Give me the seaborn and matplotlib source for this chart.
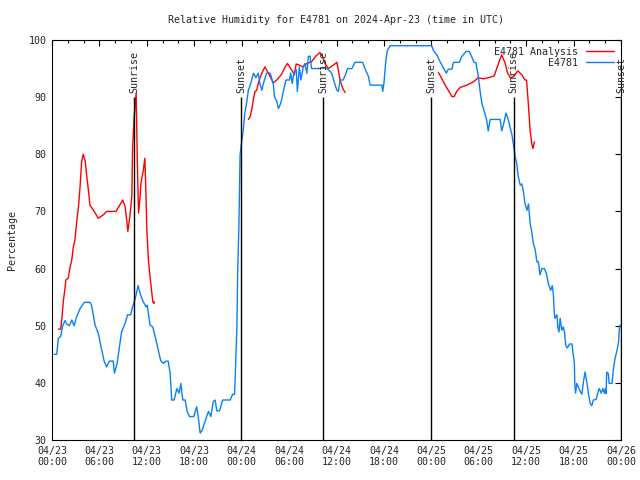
import numpy as np
import pandas as pd
import matplotlib
matplotlib.use("Agg")
import matplotlib.pyplot as plt
import seaborn as sns
from matplotlib.lines import Line2D

# hours since 2024-04-23 00:00 UTC
obs_hours = [0.25, 0.6, 0.8, 1.1, 1.35, 1.65, 1.85, 2.2, 2.5, 2.8, 3.05, 3.55, 4.1, 4.8, 5.0, 5.45,
             5.85, 6.3, 6.6, 6.9, 7.25, 7.75, 7.9, 8.25, 8.8, 9.25, 9.55, 9.95, 10.2, 10.5, 10.9, 11.2,
             11.55, 11.9, 12.05, 12.4, 12.75, 13.05, 13.45, 13.75, 14.1, 14.4, 14.7, 14.95, 15.15, 15.45,
             15.8, 16.1, 16.3, 16.55, 16.85, 17.1, 17.4, 17.95, 18.3, 18.5, 18.75, 19.0, 19.35, 19.8,
             20.1, 20.4, 20.65, 20.85, 21.2, 21.6, 22.55, 22.85, 23.1, 23.2, 23.4, 23.5, 23.65, 23.8,
             24.0, 24.2, 24.4, 24.65, 24.85, 25.15, 25.5, 25.8, 26.1, 26.3, 26.55, 26.75, 27.15, 27.6,
             28.0, 28.15, 28.45, 28.65, 28.85, 29.05, 29.3, 29.6, 30.05, 30.2, 30.4, 30.6, 30.9, 31.05,
             31.3, 31.5, 31.8, 32.0, 32.25, 32.45, 32.65, 32.85, 33.3, 33.9, 34.35, 34.75, 34.95, 35.4,
             35.7, 36.05, 36.25, 36.45, 36.85, 37.2, 37.4, 37.95, 38.35, 39.3, 39.6, 39.85, 40.05, 40.25,
             41.1, 41.75, 41.85, 42.0, 42.25, 42.45, 42.8, 48.05, 48.25, 48.7, 49.1, 49.45, 49.9, 50.15,
             50.6, 50.8, 51.55, 51.85, 52.4, 52.8, 53.1, 53.4, 53.65, 53.95, 54.2, 54.4, 54.7, 55.0,
             55.2, 55.45, 56.7, 56.9, 57.15, 57.45, 57.75, 57.95, 58.2, 58.4, 58.6, 58.8, 59.0, 59.25,
             59.45, 59.65, 59.85, 60.1, 60.3, 60.5, 60.7, 60.9, 61.15, 61.35, 61.55, 61.75, 62.0, 62.3,
             62.55, 62.8, 63.1, 63.3, 63.45, 63.55, 63.65, 63.9, 64.0, 64.15, 64.3, 64.5, 64.7, 64.85,
             65.0, 65.2, 65.5, 65.8, 65.9, 66.1, 66.15, 66.25, 66.4, 66.6, 66.85, 67.05, 67.25, 67.45,
             67.7, 67.9, 68.1, 68.3, 68.5, 68.85, 69.05, 69.25, 69.5, 69.7, 69.9, 70.0, 70.1, 70.2,
             70.4, 70.5, 70.85, 71.05, 71.25, 71.5, 71.7, 71.8, 71.9]
obs_rh = [45, 45, 47.8, 48.1, 50, 50.9, 50.3, 50, 51, 50, 51.3, 53, 54.1, 54.1, 53.6, 50.1,
          48.7, 45.7, 43.8, 42.8, 43.8, 43.8, 41.7, 43.5, 48.9, 50.4, 51.9, 51.9, 53.3, 54.6, 57, 55.4,
          54.2, 53.3, 53.6, 50.1, 49.8, 48.1, 45.7, 43.9, 43.4, 43.8, 43.8, 41.7, 37, 37,
          39, 38.2, 39.9, 37, 37, 35, 34.1, 34.1, 35.8, 34.1, 31.2, 31.7, 33.2, 35,
          34.1, 36.7, 37, 35.1, 35.1, 37, 37, 38, 38, 41.7, 49.8, 59.8, 67.3, 79.9,
          82.2, 84.2, 87.2, 89.2, 91.2, 92.4, 94.2, 93.4, 94.2, 92.4, 91.2, 92.4, 94.2, 94.2,
          92.4, 90.1, 89.2, 88, 88.6, 89.5, 91.2, 93, 93, 94.2, 92.4, 94.2, 94.8, 91,
          95.3, 93, 95.3, 95.9, 94.2, 97.1, 97.2, 95, 95, 95, 95.2, 95, 94.8, 94.2,
          92.7, 91.2, 91, 93, 93, 94.2, 95, 95, 96.1, 96.1, 95, 94.2, 93.6, 92.1,
          92.1, 92.1, 91, 92.4, 96.5, 98.2, 99, 99, 98.2, 97.4, 96.2, 95.3, 94.2, 94.9,
          94.9, 96.1, 96.1, 97.1, 98, 98, 97.1, 96.1, 96, 93.6, 90.7, 88.9, 87.5, 86,
          84.1, 86.1, 86.1, 84.1, 85.3, 87.2, 86, 84.8, 83.4, 81.6, 79.6, 78.4, 76.1, 74.6,
          74.8, 73.5, 71.4, 70.2, 71.3, 67.9, 66.5, 64.4, 63.3, 61.2, 61.2, 58.9, 60, 60,
          59.2, 57.4, 56.2, 57, 55.4, 52.4, 51.3, 51.9, 49.8, 48.9, 51.3, 49.2, 49.8, 48.9,
          46.6, 46.1, 46.8, 46.8, 45.5, 43.4, 39.9, 38.2, 39.9, 39.3, 38.5, 38, 40.2, 41.9,
          39.9, 37.9, 36.4, 36, 37, 37.1, 38.2, 39, 38.2, 39, 38.2, 39, 38.1, 41.9,
          41.6, 39.9, 39.9, 42.5, 44.3, 45.7, 47.2, 49.8, 50.1]

# analysis: three separate runs
ana1_hours = [0.8, 1.1, 1.25, 1.45, 1.65, 1.75, 2.05, 2.3, 2.5, 2.7, 2.9, 3.15, 3.35, 3.55, 3.75,
              3.95, 4.2, 4.4, 4.6, 4.8, 5.25, 5.85, 6.5, 6.9, 8.1, 8.95, 9.25, 9.45, 9.6, 9.85,
              10.1, 10.2, 10.4, 10.65, 10.8, 10.95, 11.15, 11.25, 11.55, 11.75, 11.9, 12.0, 12.2,
              12.4, 12.6, 12.75, 12.9, 12.95]
ana1_rh = [49.4, 49.4, 51.3, 54.5, 56.6, 58, 58.3, 60.3, 61.5, 63.8, 65, 68.5, 70.8, 74.3, 78.7,
           80, 78.8, 76.1, 73.8, 71.1, 70.2, 68.8, 69.4, 70, 70, 72, 70.8, 68.5, 66.5, 69.1,
           72.6, 81.3, 86.6, 90.7, 78.4, 69.7, 72.6, 74.9, 77.2, 79.3, 72.6, 66.7, 61.5,
           58.6, 56.2, 54.2, 53.9, 54.2]
ana2_hours = [24.85, 25.05, 25.3, 25.5, 25.7, 25.9, 26.1, 26.3, 26.65, 26.95, 27.25, 27.6, 28.0,
              28.45, 29.05, 29.5, 29.8, 30.05, 30.45, 30.65, 30.9, 31.3, 31.75, 32.25, 32.85,
              33.4, 33.9, 34.25, 34.55, 34.95, 35.6, 36.05, 36.45, 36.8, 37.1]
ana2_rh = [86.1, 86.5, 88, 89.8, 91, 91.2, 92.4, 93.3, 94.5, 95.3, 94.5, 93.6, 92.5,
           93, 94, 95.3, 95.9, 95.3, 94.5, 93.9, 95.8, 95.6, 95.3, 95.9, 96.2,
           97.2, 97.8, 97.1, 95.9, 95, 95.6, 96.1, 93, 91.5, 90.8]
ana3_hours = [48.9, 49.3, 49.75, 50.15, 50.6, 50.9, 51.2, 51.65, 52.5, 53.35, 53.95, 54.6, 55.2,
              55.95, 56.5, 56.9, 57.35, 57.65, 58.0, 58.4, 58.95, 59.45, 59.85, 60.05, 60.3, 60.5,
              60.7, 60.85, 61.05]
ana3_rh = [94.3, 93.3, 92.1, 91.2, 90.1, 90.1, 91, 91.7, 92.1, 92.7, 93.4, 93.2, 93.4,
           93.7, 95.9, 97.4, 95.9, 94.2, 93.4, 93.6, 94.6, 93.9, 93, 93, 88.3, 84.2,
           81.9, 81, 82.2]

sun_hours = [10.4, 23.9, 34.3, 48.0, 58.4, 72.0]
sun_labels = ["Sunrise", "Sunset", "Sunrise", "Sunset", "Sunrise", "Sunset"]

tick_hours = list(range(0, 73, 6))
tick_labels = ["04/23\n00:00", "04/23\n06:00", "04/23\n12:00", "04/23\n18:00",
               "04/24\n00:00", "04/24\n06:00", "04/24\n12:00", "04/24\n18:00",
               "04/25\n00:00", "04/25\n06:00", "04/25\n12:00", "04/25\n18:00",
               "04/26\n00:00"]

sns.set_style("white")
plt.rcParams['font.family'] = ['DejaVu Sans Mono']
fs = 7.2

RED = "#ff0000"
BLUE = "#0a80f5"

fig = plt.figure(figsize=(6.4, 4.8), dpi=100)
ax = fig.add_axes([52/640, 40/480, 569/640, 400/480])

obs = pd.DataFrame({"hour": obs_hours, "rh": obs_rh})
ana = pd.concat([
    pd.DataFrame({"hour": ana1_hours, "rh": ana1_rh, "seg": 1}),
    pd.DataFrame({"hour": ana2_hours, "rh": ana2_rh, "seg": 2}),
    pd.DataFrame({"hour": ana3_hours, "rh": ana3_rh, "seg": 3}),
])

sns.lineplot(data=ana, x="hour", y="rh", units="seg", estimator=None, color=RED, lw=1.0, ax=ax)
sns.lineplot(data=obs, x="hour", y="rh", estimator=None, color=BLUE, lw=1.0, ax=ax)

ax.vlines(sun_hours, 30, 90, color="black", lw=1.0)
for h, lab in zip(sun_hours, sun_labels):
    ax.text(h, 90.8, lab, rotation=90, ha="center", va="bottom", fontsize=fs)

ax.set_xlim(0, 72)
ax.set_ylim(30, 100)
ax.set_xticks(tick_hours)
ax.set_xticklabels(tick_labels, fontsize=fs)
ax.set_xticks(range(0, 73, 2), minor=True)
ax.set_yticks(range(30, 101, 10))
ax.set_yticklabels([str(v) for v in range(30, 101, 10)], fontsize=fs)
ax.tick_params(which="both", direction="in", top=True, right=True, color="black", width=0.8)
ax.tick_params(which="major", length=4, pad=4)
ax.tick_params(which="minor", length=2)
for s in ax.spines.values():
    s.set_color("black")
    s.set_linewidth(0.8)

ax.set_xlabel("")
ax.set_ylabel("Percentage", fontsize=fs, labelpad=8)
ax.set_title("Relative Humidity for E4781 on 2024-Apr-23 (time in UTC)", fontsize=fs, pad=12)

handles = [Line2D([], [], color=RED, lw=1.0), Line2D([], [], color=BLUE, lw=1.0)]
ax.legend(handles, ["E4781 Analysis", "E4781"], loc="upper right", frameon=False,
          markerfirst=False, fontsize=fs, handlelength=2.8, handletextpad=0.8,
          borderaxespad=0.3, labelspacing=0.1)

fig.savefig("out.png", dpi=100)
